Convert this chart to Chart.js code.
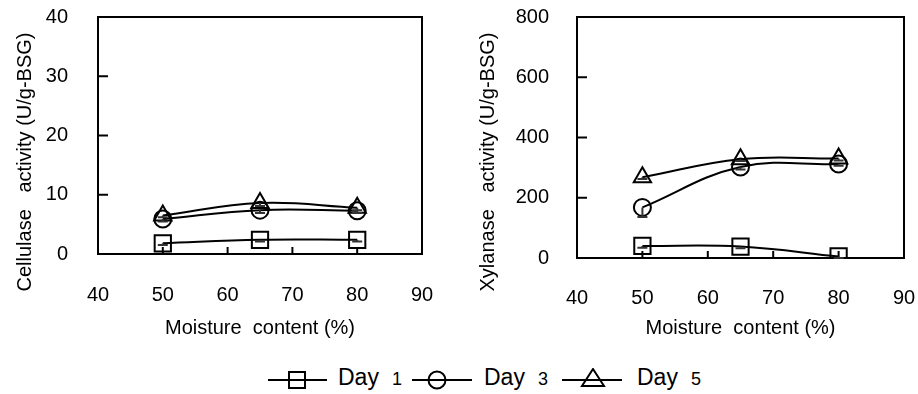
<!DOCTYPE html>
<html>
<head>
<meta charset="utf-8">
<script src="https://cdn.jsdelivr.net/npm/chart.js@4/dist/chart.umd.min.js"></script>
<style>
html,body{margin:0;padding:0;background:#fff;}
body{width:918px;height:394px;position:relative;overflow:hidden;font-family:"Liberation Sans",Arial,sans-serif;color:#000;}
canvas{position:absolute;top:0;}
#c1{left:0;}
#c2{left:460px;}
.sym{position:absolute;top:368px;}
.lt{position:absolute;top:366px;font-size:23px;line-height:23px;white-space:nowrap;}
.lt span{font-size:18px;margin-left:13px;}
</style>
</head>
<body>
<canvas id="c1" width="460" height="345"></canvas>
<canvas id="c2" width="458" height="345"></canvas>

<svg class="sym" style="left:268px" width="60" height="24"><line x1="0" y1="12" x2="59" y2="12" stroke="#000" stroke-width="2"/><rect x="21" y="4" width="16" height="16" fill="none" stroke="#000" stroke-width="2"/></svg>
<div class="lt" style="left:338px">Day<span>1</span></div>
<svg class="sym" style="left:412px" width="61" height="24"><line x1="0" y1="12" x2="60" y2="12" stroke="#000" stroke-width="2"/><circle cx="25" cy="12" r="8.5" fill="none" stroke="#000" stroke-width="2"/></svg>
<div class="lt" style="left:484px">Day<span>3</span></div>
<svg class="sym" style="left:562px" width="61" height="24"><line x1="0" y1="12" x2="60" y2="12" stroke="#000" stroke-width="2"/><polygon points="31,1 42,18 20,18" fill="none" stroke="#000" stroke-width="2"/></svg>
<div class="lt" style="left:637px">Day<span>5</span></div>

<script>
// ---- data ----
const moisture = [50, 65, 80];
const seriesNames = ['Day 1', 'Day 3', 'Day 5'];
const xTickValues = [40, 50, 60, 70, 80, 90];
const cellYTicks = [0, 10, 20, 30, 40];
const xylYTicks = [0, 200, 400, 600, 800];

const cellDay1 = [1.8, 2.4, 2.4];
const cellDay3 = [5.9, 7.4, 7.3];
const cellDay5 = [6.5, 8.6, 7.8];
const cellErr1 = [0.3, 0.3, 0.3];
const cellErr3 = [0.4, 0.5, 0.4];
const cellErr5 = [0.3, 0.5, 0.4];

const xylDay1 = [40, 38, 5];
const xylDay3 = [168, 302, 312];
const xylDay5 = [268, 328, 330];
const xylErr1 = [6, 6, 5];
const xylErr3 = [32, 8, 6];
const xylErr5 = [6, 6, 6];

const FONT = '"Liberation Sans", Arial, sans-serif';

const decorPlugin = {
  id: 'decor',
  beforeDatasetsDraw(chart, args, opts) {
    const {ctx, chartArea: a, scales: {x, y}} = chart;
    ctx.save();
    ctx.strokeStyle = '#000';
    ctx.lineWidth = 2;
    ctx.strokeRect(a.left, a.top, a.right - a.left, a.bottom - a.top);
    x.ticks.forEach(t => {
      if (t.value <= x.min || t.value >= x.max) return;
      const px = x.getPixelForValue(t.value);
      ctx.beginPath(); ctx.moveTo(px, a.bottom); ctx.lineTo(px, a.bottom - 7); ctx.stroke();
    });
    y.ticks.forEach(t => {
      if (t.value <= y.min || t.value >= y.max) return;
      const py = y.getPixelForValue(t.value);
      ctx.beginPath(); ctx.moveTo(a.left, py); ctx.lineTo(a.left + 10, py); ctx.stroke();
    });
    // y axis title
    ctx.translate(opts.tx, opts.ty);
    ctx.rotate(-Math.PI / 2);
    ctx.fillStyle = '#000';
    ctx.font = '20px ' + FONT;
    ctx.textAlign = 'center';
    ctx.textBaseline = 'middle';
    ctx.fillText(opts.text, 0, 0);
    ctx.restore();
  },
  afterDatasetsDraw(chart, args, opts) {
    const {ctx, scales: {x, y}} = chart;
    ctx.save();
    ctx.strokeStyle = '#333';
    ctx.lineWidth = 2;
    chart.data.datasets.forEach((ds, i) => {
      const errs = opts.errors[i];
      ds.data.forEach((p, j) => {
        const px = x.getPixelForValue(p.x);
        const py = y.getPixelForValue(p.y);
        const pe = y.getPixelForValue(p.y - errs[j]);
        ctx.beginPath();
        ctx.moveTo(px, py); ctx.lineTo(px, pe);
        ctx.moveTo(px - 5, pe); ctx.lineTo(px + 5, pe);
        ctx.stroke();
      });
    });
    ctx.restore();
  }
};

function makeChart(id, series, errors, yTicks, dims, yTitle) {
  const styles = ['rect', 'circle', 'triangle'];
  const radii = [11.5, 8.5, 10];
  return new Chart(document.getElementById(id), {
    type: 'line',
    data: {
      datasets: series.map((vals, i) => ({
        label: seriesNames[i],
        data: moisture.map((m, j) => ({x: m, y: vals[j]})),
        borderColor: '#000',
        borderWidth: 2,
        backgroundColor: 'rgba(0,0,0,0)',
        pointStyle: styles[i],
        pointRadius: radii[i],
        pointBorderWidth: 2,
        pointBorderColor: '#000',
        pointBackgroundColor: 'rgba(0,0,0,0)',
        tension: 0.4,
        fill: false
      }))
    },
    options: {
      responsive: false,
      animation: false,
      events: [],
      layout: {padding: {top: 17, right: dims.right, left: 0, bottom: 0}},
      plugins: {
        legend: {display: false},
        tooltip: {enabled: false},
        decor: {text: yTitle, tx: dims.tx, ty: 162, errors: errors}
      },
      scales: {
        x: {
          type: 'linear',
          min: xTickValues[0],
          max: xTickValues[xTickValues.length - 1],
          afterBuildTicks: s => { s.ticks = xTickValues.map(v => ({value: v})); },
          afterFit: s => { s.height = dims.xh; s.paddingLeft = 0; s.paddingRight = 0; s.paddingTop = 0; s.paddingBottom = 0; },
          grid: {display: false, drawTicks: false},
          border: {display: false},
          ticks: {font: {size: 20, family: FONT}, color: '#000', padding: dims.xpad, maxRotation: 0, autoSkip: false},
          title: {display: true, text: 'Moisture  content (%)', color: '#000',
                  font: {size: 20, family: FONT}, padding: {top: 0, bottom: 5}}
        },
        y: {
          type: 'linear',
          min: yTicks[0],
          max: yTicks[yTicks.length - 1],
          afterBuildTicks: s => { s.ticks = yTicks.map(v => ({value: v})); },
          afterFit: s => { s.width = dims.yw; s.paddingLeft = 0; s.paddingRight = 0; s.paddingTop = 0; s.paddingBottom = 0; },
          grid: {display: false, drawTicks: false},
          border: {display: false},
          ticks: {font: {size: 20, family: FONT}, color: '#000', padding: dims.ypad, autoSkip: false}
        }
      }
    },
    plugins: [decorPlugin]
  });
}

makeChart('c1', [cellDay1, cellDay3, cellDay5], [cellErr1, cellErr3, cellErr5], cellYTicks,
  {right: 38, yw: 98, xh: 91, xpad: 29, ypad: 30, tx: 25}, 'Cellulase   activity (U/g-BSG)');
makeChart('c2', [xylDay1, xylDay3, xylDay5], [xylErr1, xylErr3, xylErr5], xylYTicks,
  {right: 14, yw: 117, xh: 87, xpad: 28, ypad: 28, tx: 28}, 'Xylanase   activity (U/g-BSG)');
</script>
</body>
</html>
